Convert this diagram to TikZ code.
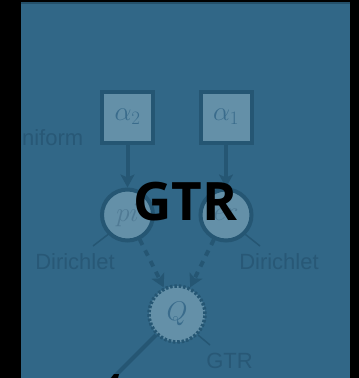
\RequirePackage{fix-cm}
\documentclass[tikz,border=0pt]{standalone}
\usepackage{fontspec}
\setmainfont{Liberation Sans}
\newfontfamily\headfont{Open Sans}
\usetikzlibrary{arrows.meta}
\definecolor{slidebg}{RGB}{49,103,135}
\definecolor{slidetop}{RGB}{36,80,106}
\definecolor{nodefill}{RGB}{100,144,168}
\definecolor{edgecol}{RGB}{37,86,115}
\definecolor{labelcol}{RGB}{40,88,118}
\definecolor{symcol}{RGB}{58,108,140}
\definecolor{fadecol}{RGB}{80,122,148}
\tikzset{
  constnode/.style={draw=edgecol, fill=nodefill, line width=4pt, rectangle, minimum size=51pt, inner sep=0pt, text=symcol, font=\fontsize{27}{29}\selectfont},
  stochnode/.style={draw=edgecol, fill=nodefill, line width=4pt, circle, minimum size=51pt, inner sep=0pt, text=fadecol, font=\fontsize{27}{29}\selectfont},
  detnode/.style={draw=edgecol, fill=nodefill, line width=3.5pt, dash pattern=on 2.6pt off 1.8pt, circle, minimum size=56pt, inner sep=0pt, text=symcol, font=\fontsize{27}{29}\selectfont},
  distlabel/.style={text=labelcol, font=\fontsize{22}{24}\selectfont, inner sep=0pt},
  pinline/.style={draw=edgecol, line width=1.5pt},
  edgeline/.style={draw=edgecol, line width=4pt},
  solidarrow/.style={edgeline, -{Stealth[length=13pt,width=14pt,inset=3pt]}},
  dashedarrow/.style={solidarrow, dash pattern=on 6pt off 6pt},
}
\begin{document}
\begin{tikzpicture}[x=1pt,y=-1pt]
\useasboundingbox (0,0) rectangle (359,378);
\fill[black] (0,0) rectangle (359,378);
\fill[slidebg] (21,2) rectangle (350,378);
\fill[slidetop] (21,2) rectangle (350,4);

\begin{scope}
\clip (21,2) rectangle (350,378);
\node[constnode] (alpha2) at (127.5,117) {$\alpha_2$};
\node[constnode] (alpha1) at (226,117) {$\alpha_1$};
\node[stochnode] (pi) at (127.5,215) {$pi$};
\node[stochnode] (er) at (226,215) {$er$};
\node[detnode] (Q) at (177,314) {$Q$};

\node[distlabel, anchor=base west] (unif) at (6,145) {Uniform};
\node[distlabel, anchor=base] (dirL) at (75,269) {Dirichlet};
\node[distlabel, anchor=base] (dirR) at (279,269) {Dirichlet};
\node[distlabel, anchor=base] (gtrlab) at (229.5,368) {GTR};

\coordinate (dirLpin) at (93,246);
\coordinate (dirRpin) at (260,246);
\coordinate (gtrpin) at (210,345);
\coordinate (lowleft) at (100,391);

\draw[pinline] (pi.225) -- (dirLpin);
\draw[pinline] (er.-45) -- (dirRpin);
\draw[pinline] (Q.-45) -- (gtrpin);

\draw[solidarrow] (alpha2) -- (pi);
\draw[solidarrow] (alpha1) -- (er);
\draw[dashedarrow] (pi) -- (Q);
\draw[dashedarrow] (er) -- (Q);
\draw[edgeline] (Q) -- (lowleft);
\fill[black] (111,378) -- (114,374) -- (119,374) -- (118,378) -- cycle;

\node[font=\headfont\bfseries\fontsize{53}{55}\selectfont, text=black, anchor=base, inner sep=0pt] (title) at (185.5,220) {GTR};
\end{scope}
\end{tikzpicture}
\end{document}
